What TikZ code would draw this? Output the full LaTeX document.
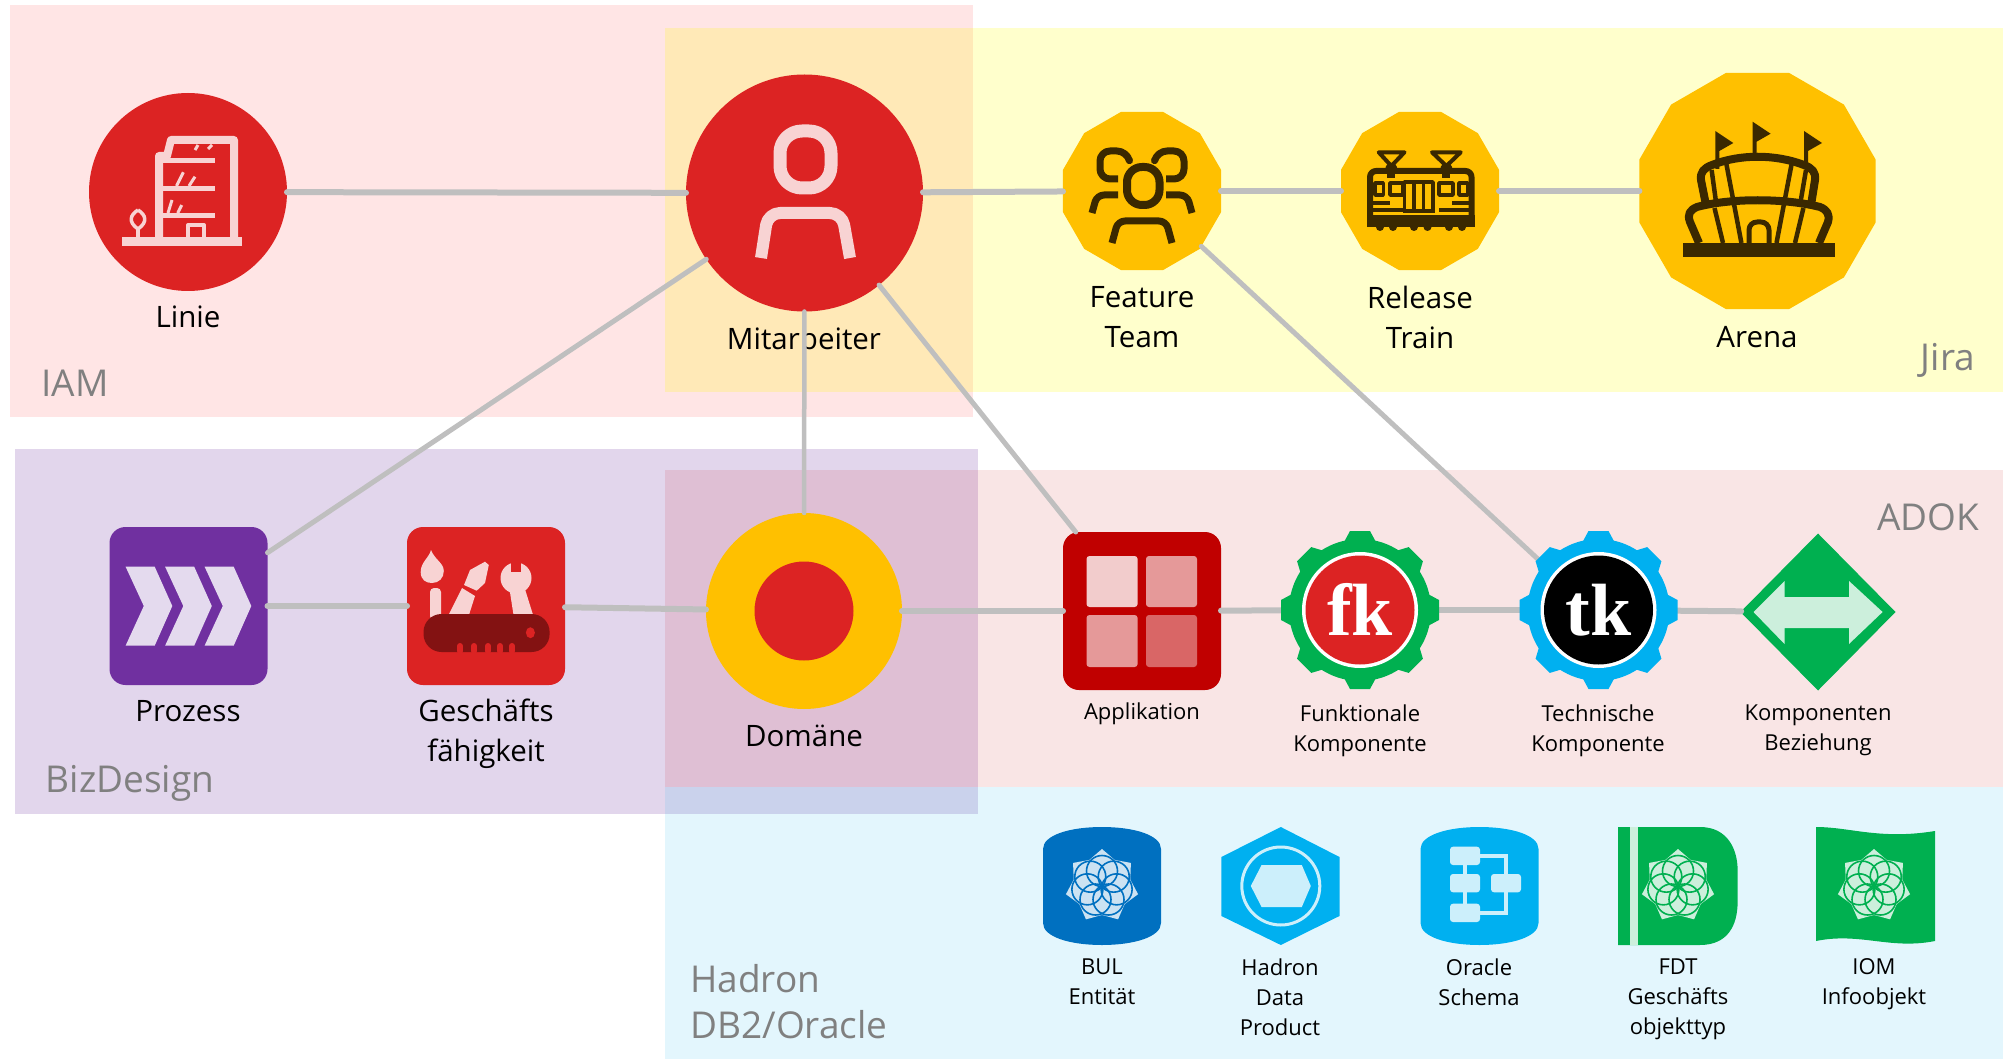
\documentclass[tikz,border=0pt]{standalone}
\usepackage{fontspec}
\setmainfont{Open Sans}
\newfontfamily\gearfont{Liberation Serif}
\usetikzlibrary{shapes.geometric}
\definecolor{redfill}{HTML}{DC2323}
\definecolor{appred}{HTML}{C00000}
\definecolor{amberfill}{HTML}{FFC000}
\definecolor{purplefill}{HTML}{7030A0}
\definecolor{greenfill}{HTML}{00B050}
\definecolor{cyanfill}{HTML}{00B0F0}
\definecolor{bluefill}{HTML}{0070C0}
\definecolor{darkbrown}{HTML}{3A2800}
\definecolor{knifered}{HTML}{831212}
\definecolor{paleicon}{HTML}{F8D3D3}
\definecolor{palegreen}{HTML}{CCEFDC}
\definecolor{paleblue}{HTML}{CCE2F2}
\definecolor{palecyan}{HTML}{CCEFFB}
\definecolor{palepurple}{HTML}{E4DAEE}
\definecolor{linkgray}{HTML}{BFBFBF}
\definecolor{areagray}{HTML}{808080}
\definecolor{jirayellow}{HTML}{FFFFCC}
\definecolor{jiraiam}{HTML}{FFE9B7}
\tikzset{
  blob/.style={circle,inner sep=0pt,outer sep=0pt,minimum size=#1},
  polyblob/.style={regular polygon,regular polygon sides=12,inner sep=0pt,outer sep=0pt,fill=amberfill,minimum size=#1},
  tile/.style={rectangle,rounded corners=16pt,inner sep=0pt,outer sep=0pt,minimum size=158pt,fill=#1},
  biglabel/.style={align=center,font=\fontsize{29.5}{40}\selectfont},
  smalllabel/.style={align=center,font=\fontsize{22}{30}\selectfont},
  arealabel/.style={text=areagray,font=\fontsize{37}{46}\selectfont,align=left},
  link/.style={draw=linkgray,line width=#1,line cap=round},
  link/.default=6pt,
  palestroke/.style={draw=paleicon,line cap=butt,line join=round},
  brownstroke/.style={draw=darkbrown,line cap=butt,line join=round},
}
\newcommand{\gearicon}[4]{%
  \fill[#2] (#1,610) circle[radius=71pt];
  \foreach \a in {0,45,...,315} { \fill[#2,shift={(#1,610)},rotate=\a] (-17,-66) -- (-10,-79) -- (10,-79) -- (17,-66) -- cycle; }
  \fill[white] (#1,610) circle[radius=58pt];
  \fill[#3] (#1,610) circle[radius=54.5pt];
  \node[anchor=base,text=white,font=\gearfont\fontsize{74}{74}\bfseries\selectfont] (#4label) at (#1,635) {#4};
}
\newcommand{\cylinderfill}[2]{%
  \fill[#2,shift={(#1,0)}] (-59,849) .. controls (-59,835) and (-32,827) .. (0,827) .. controls (32,827) and (59,835) .. (59,849) -- (59,923) .. controls (59,937) and (32,945) .. (0,945) .. controls (-32,945) and (-59,937) .. (-59,923) -- cycle;
}
\newcommand{\flowericon}[3]{%
  \begin{scope}[shift={(#1,886)}]
    \fill[#2] (-90:37) \foreach \k in {0,...,6} { -- ({-64.3+\k*51.43}:29) -- ({-38.6+\k*51.43}:37) } -- cycle;
    \foreach \k in {0,...,6} { \draw[#3,line width=1.6pt] ({-90+\k*51.43}:15) circle[radius=15.5pt]; }
  \end{scope}
}
\begin{document}
\begin{tikzpicture}[x=1pt,y=-1pt]
    \useasboundingbox (0,0) rectangle (2003,1059);
    \fill[red,opacity=0.1] (10,5) rectangle (973,417);
    \fill[jirayellow] (665,28) rectangle (2003,392);
    \fill[jiraiam] (665,28) rectangle (973,392);
    \fill[purplefill,opacity=0.2] (15,449) rectangle (978,814);
    \fill[appred,opacity=0.1] (665,470) rectangle (2003,787);
    \fill[cyanfill,opacity=0.11] (665,787) rectangle (2003,1059);

    \node[arealabel] (iamarea) at (75,383) {IAM};
    \node[arealabel] (jiraarea) at (1948,360) {Jira};
    \node[arealabel] (bizarea) at (130,783) {BizDesign};
    \node[arealabel] (adokarea) at (1928,517) {ADOK};
    \node[arealabel] (hadronarea) at (789,1002) {Hadron\\DB2/Oracle};

    \node[blob=198pt,fill=redfill] (linie) at (188,192) {};
    \node[blob=237pt,fill=redfill] (mitarbeiter) at (804.5,193) {};
    \node[polyblob=163.6pt] (feature) at (1142,191) {};
    \node[polyblob=163.6pt] (release) at (1420,191) {};
    \node[polyblob=244.4pt] (arena) at (1757.5,191) {};
    \node[tile=purplefill] (prozess) at (188.5,606) {};
    \node[tile=redfill] (faehigkeit) at (486,606) {};
    \node[blob=196pt,fill=amberfill] (domaene) at (804,611) {};
    \node[blob=99pt,fill=redfill] (domaenekern) at (804,611) {};
    \node[tile=appred] (applikation) at (1142,611) {};
    \node[blob=157pt] (fk) at (1360,610) {};
    \node[blob=157pt] (tk) at (1598.5,610) {};
    \node[diamond,inner sep=0pt,outer sep=0pt,minimum width=155pt,minimum height=157pt,fill=greenfill] (beziehung) at (1818,612) {};

    \node[biglabel] (linielabel) at (188,317) {Linie};
    \node[biglabel] (mitarbeiterlabel) at (804,338) {Mitarbeiter};
    \node[biglabel] (featurelabel) at (1142,317.5) {Feature\\Team};
    \node[biglabel] (releaselabel) at (1420,317) {Release\\Train};
    \node[biglabel] (arenalabel) at (1757,337) {Arena};
    \node[biglabel] (prozesslabel) at (188,711) {Prozess};
    \node[biglabel] (faehigkeitlabel) at (486,734) {Geschäfts\\fähigkeit};
    \node[biglabel] (domaenelabel) at (804,736) {Domäne};
    \node[smalllabel] (applikationlabel) at (1142,714) {Applikation};
    \node[smalllabel] (funktionallabel) at (1360,730.5) {Funktionale\\Komponente};
    \node[smalllabel] (technischlabel) at (1598,730.5) {Technische\\Komponente};
    \node[smalllabel] (beziehunglabel) at (1818,730.5) {Komponenten\\Beziehung};
    \node[smalllabel] (bullabel) at (1102,982) {BUL\\Entität};
    \node[smalllabel] (hadronlabel) at (1280,997) {Hadron\\Data\\Product};
    \node[smalllabel] (oraclelabel) at (1479,982) {Oracle\\Schema};
    \node[smalllabel] (fdtlabel) at (1678,999.5) {FDT\\Geschäfts\\objekttyp};
    \node[smalllabel] (iomlabel) at (1874,984.5) {IOM\\Infoobjekt};

    \draw[link] (linie) -- (mitarbeiter);
    \draw[link] (mitarbeiter) -- (feature);
    \draw[link] (feature) -- (release);
    \draw[link] (release) -- (arena);
    \draw[link=5pt] (mitarbeiter.214) -- (prozess.34);
    \draw[link=4.5pt] (mitarbeiter) -- (domaene);
    \draw[link=5pt] (mitarbeiter.-51) -- (applikation.130);
    \draw[link=5pt] (feature.-43) -- (tk.140);
    \draw[link] (prozess) -- (faehigkeit);
    \draw[link] (faehigkeit) -- (domaene);
    \draw[link] (domaene) -- (applikation);
    \draw[link] (applikation) -- (fk);
    \draw[link] (fk) -- (tk);
    \draw[link] (tk) -- (beziehung);

    \fill[paleicon] (122,236.7) rectangle (242,245.7);
    \draw[palestroke,line width=8pt] (159,237) -- (159,156) -- (167,156) -- (171,140) -- (234,140) -- (234,237);
    \foreach \y in {160.7,188.3,216} { \draw[palestroke,line width=5pt] (159,\y) -- (215,\y); }
    \foreach \xa/\ya/\xb/\yb in {195/150/198/145, 208/149/212/145, 176.5/186/183.4/172.3, 189/186/195/176.7, 168/213/172/200, 177.7/213/181.7/205} { \draw[palestroke,line width=3pt] (\xa,\ya) -- (\xb,\yb); }
    \draw[palestroke,line width=4pt] (188,237) -- (188,225) -- (204,225) -- (204,237);
    \draw[palestroke,line width=3.5pt] (138,210) .. controls (130,215) and (128,222) .. (138,229) .. controls (148,222) and (146,215) .. (138,210);
    \draw[palestroke,line width=3.5pt] (138,229) -- (138,237);

    \draw[palestroke,line width=13pt,rounded corners=22pt] (780,131) rectangle (831,188);
    \draw[palestroke,line width=12pt,rounded corners=12pt] (761,258) -- (768,213) -- (842,213) -- (850,258);

    \draw[brownstroke,line width=8pt,rounded corners=15pt] (1127,167) rectangle (1159.5,205);
    \draw[brownstroke,line width=7pt,rounded corners=7pt] (1112,243) -- (1118,221) -- (1166,221) -- (1172,243);
    \draw[brownstroke,line width=7pt,rounded corners=10pt] (1129,159) -- (1127,151) -- (1100,151) -- (1100,179) -- (1118,179);
    \draw[brownstroke,line width=7pt,rounded corners=10pt] (1155,159) -- (1157,151) -- (1184,151) -- (1184,179) -- (1166,179);
    \draw[brownstroke,line width=7pt,rounded corners=7pt] (1092,213) -- (1097,195) -- (1118,195);
    \draw[brownstroke,line width=7pt,rounded corners=7pt] (1192,213) -- (1187,195) -- (1166,195);

    \draw[brownstroke,line width=6pt,rounded corners=6pt] (1370,171) rectangle (1471.5,224);
    \fill[darkbrown] (1367,215) rectangle (1474.5,227);
    \foreach \x in {1380,1393,1414,1427.5,1449,1462} { \fill[darkbrown] (\x,227) circle[radius=4pt]; }
    \draw[brownstroke,line width=4pt] (1378.7,152.3) -- (1404.5,152.3) -- (1391.3,166) -- cycle;
    \draw[brownstroke,line width=4pt] (1432,152.3) -- (1460.7,152.3) -- (1446.4,166) -- cycle;
    \foreach \x in {1391.3,1446.4} { \fill[darkbrown] (\x,169) circle[radius=6pt]; \fill[darkbrown] ({\x-4},172) rectangle ({\x+4},178); }
    \draw[brownstroke,line width=3.5pt] (1404.5,213) -- (1404.5,182) -- (1433,182) -- (1433,213);
    \foreach \x in {1414,1423.5} { \draw[brownstroke,line width=3.5pt] (\x,182) -- (\x,213); }
    \foreach \xa/\xb in {1375/1383.3,1390/1403,1439/1453,1459/1467.6} { \draw[brownstroke,line width=3.5pt] (\xa,183) rectangle (\xb,195); }
    \foreach \xa/\xb/\y in {1372/1390/203,1372/1403/210,1439/1470/210,1452/1470/203,1404/1433/211} { \draw[brownstroke,line width=3.5pt] (\xa,\y) -- (\xb,\y); }

    \fill[darkbrown] (1683,243) rectangle (1835,257);
    \foreach \px/\py in {1717.3/131,1754.6/121.7,1806/131} { \fill[darkbrown] (\px-2,\py) -- (\px+16,\py+12) -- (\px+2,\py+20) -- (\px+2,\py+38) -- (\px-2,\py+38) -- cycle; }
    \draw[brownstroke,line width=8pt] (1706,205) -- (1701,180) .. controls (1700,172) and (1704,168) .. (1712,165) .. controls (1740,154) and (1775,154) .. (1804,165) .. controls (1812,168) and (1816,172) .. (1815,180) -- (1811,205);
    \draw[brownstroke,line width=8pt] (1699,243) -- (1690,222) .. controls (1687,214) and (1690,210) .. (1697,207) .. controls (1730,198) and (1785,198) .. (1820,207) .. controls (1827,210) and (1830,214) .. (1828,222) -- (1819,243);
    \foreach \xa/\ya/\xb/\yb in {1726/162/1741.4/243, 1792/162/1776.5/243, 1714.5/208/1723/243, 1803.4/208/1795/243, 1711.6/170/1716/202, 1806/170/1800.5/202} { \draw[brownstroke,line width=4.5pt] (\xa,\ya) -- (\xb,\yb); }
    \draw[brownstroke,line width=5pt,rounded corners=8pt] (1749,243) -- (1749,222) -- (1769,222) -- (1769,243);

    \foreach \d in {0,39.5,79} { \fill[palepurple] ({125.6+\d},566.7) -- ({154.7+\d},566.7) -- ({172.3+\d},606) -- ({154.7+\d},645.7) -- ({125.6+\d},645.7) -- ({143.8+\d},606) -- cycle; }

    \fill[paleicon] (431,550) .. controls (429,558) and (420.7,562) .. (420.7,572) .. controls (420.7,580) and (426,583) .. (432,583) .. controls (439,583) and (443.8,578) .. (443.8,571) .. controls (443.8,563) and (435,560) .. (431,550);
    \fill[paleicon,rounded corners=4pt] (430,588) rectangle (441,620);
    \fill[paleicon] (447,618) -- (462,588) -- (475,596) -- (468,618) -- cycle;
    \fill[paleicon] (470,570) -- (485,561.7) -- (488.8,565) -- (485,583) -- (476.7,590.7) -- (464,585) -- cycle;
    \fill[paleicon] (516,578) circle[radius=15.5pt];
    \fill[redfill] (511,555) rectangle (520.5,572);
    \fill[paleicon] (509,586) -- (524,586) -- (534,618) -- (514,618) -- cycle;
    \fill[knifered,rounded corners=18pt] (423.5,614) rectangle (549.6,652);
    \fill[redfill] (530.4,632.7) ellipse[x radius=4.5pt,y radius=5.5pt];
    \foreach \x in {460,474,488,500,512} { \draw[redfill,line width=6pt,line cap=round] (\x,646) -- (\x,651); }

    \foreach \xa/\xb/\ya/\yb/\t in {1086.5/1137.6/556/607/80, 1146/1197/556/607/60, 1086.5/1137.6/615/667/60, 1146/1197/615/667/40} { \fill[white,opacity=0.\t,rounded corners=3pt] (\xa,\ya) rectangle (\xb,\yb); }

    \gearicon{1360}{greenfill}{redfill}{fk}
    \gearicon{1598.5}{cyanfill}{black}{tk}

    \fill[palegreen] (1753.5,612) -- (1784.5,581) -- (1784.5,597) -- (1849,597) -- (1849,581) -- (1882.6,612) -- (1849,644) -- (1849,628) -- (1784.5,628) -- (1784.5,644) -- cycle;

    \cylinderfill{1102}{bluefill}
    \flowericon{1102}{paleblue}{bluefill}

    \fill[cyanfill] (1280.8,827) -- (1339.5,857) -- (1339.5,916) -- (1280.8,945) -- (1221.4,916) -- (1221.4,857) -- cycle;
    \draw[palecyan,line width=3pt] (1280.8,886) circle[radius=39pt];
    \fill[palecyan] (1261.6,865) -- (1301.8,865) -- (1310.8,886) -- (1301.8,907) -- (1261.6,907) -- (1250.8,886) -- cycle;

    \cylinderfill{1479.5}{cyanfill}
    \draw[palecyan,line width=3.5pt] (1465,856) -- (1465,912);
    \draw[palecyan,line width=3.5pt] (1465,856) -- (1506,856) -- (1506,883);
    \draw[palecyan,line width=3.5pt] (1465,913) -- (1506,913) -- (1506,883);
    \foreach \xa/\ya in {1450/846.7, 1450/874, 1450/903.7, 1491/874} { \fill[palecyan,rounded corners=3pt] (\xa,\ya) rectangle ({\xa+30},{\ya+18.3}); }

    \fill[greenfill] (1618,827) -- (1700,827) .. controls (1728,827) and (1737.6,850) .. (1737.6,870) -- (1737.6,902) .. controls (1737.6,925) and (1728,945) .. (1700,945) -- (1618,945) -- cycle;
    \fill[palegreen] (1630,827) rectangle (1637.5,945);
    \flowericon{1678}{palegreen}{greenfill}

    \fill[greenfill] (1816,827) .. controls (1850,827) and (1880,840) .. (1935,831) -- (1935,941) .. controls (1890,950) and (1860,932) .. (1816,941) -- cycle;
    \flowericon{1874}{palegreen}{greenfill}
  \end{tikzpicture}
\end{document}
